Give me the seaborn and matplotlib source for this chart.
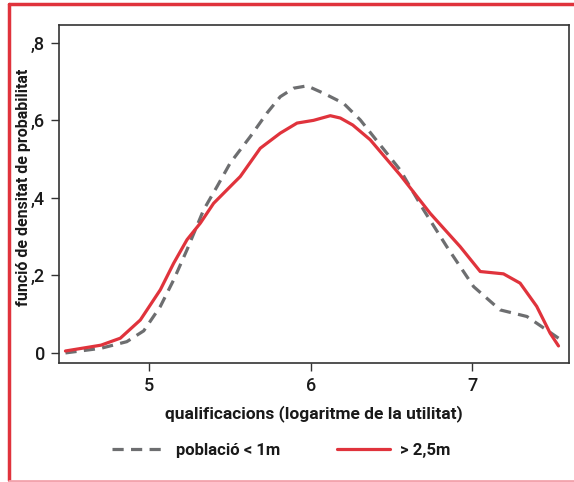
import matplotlib.pyplot as plt
import matplotlib.lines as mlines
import pandas as pd
import seaborn as sns

sns.set_theme(style="ticks")
plt.rcParams['font.family'] = ['Roboto', 'DejaVu Sans']

# values
x_small = [4.48, 4.70, 4.86, 4.965, 5.068, 5.15, 5.233, 5.336, 5.419, 5.501, 5.625, 5.729,
           5.811, 5.894, 5.977, 6.079, 6.203, 6.307, 6.389, 6.554, 6.699, 6.843, 7.009,
           7.173, 7.339, 7.462, 7.535]
y_small = [0.0, 0.012, 0.029, 0.057, 0.120, 0.188, 0.266, 0.369, 0.429, 0.490, 0.558, 0.619,
           0.661, 0.683, 0.689, 0.670, 0.644, 0.601, 0.558, 0.472, 0.369, 0.274, 0.171,
           0.111, 0.094, 0.059, 0.038]

x_big = [4.48, 4.70, 4.82, 4.944, 5.068, 5.15, 5.233, 5.316, 5.398, 5.522, 5.563, 5.687,
         5.811, 5.915, 6.017, 6.121, 6.183, 6.260, 6.368, 6.554, 6.740, 6.926, 7.050,
         7.194, 7.297, 7.400, 7.483, 7.535]
y_big = [0.005, 0.02, 0.038, 0.085, 0.163, 0.231, 0.292, 0.335, 0.386, 0.438, 0.455, 0.528,
         0.567, 0.593, 0.600, 0.612, 0.606, 0.588, 0.550, 0.459, 0.360, 0.274, 0.210,
         0.204, 0.180, 0.120, 0.051, 0.018]

labels = ['població < 1m', '> 2,5m']
colors = ['#6d6e70', '#e0333c']
y_ticks = [0, 0.2, 0.4, 0.6, 0.8]
y_ticklabels = ['0', ',2', ',4', ',6', ',8']
x_ticks = [5, 6, 7]

df = pd.concat([
    pd.DataFrame({'x': x_small, 'y': y_small, 'grup': labels[0]}),
    pd.DataFrame({'x': x_big, 'y': y_big, 'grup': labels[1]}),
])

fig = plt.figure(figsize=(5.74, 4.82), dpi=100)
ax = fig.add_axes([59 / 574, 1 - 363 / 482, 510 / 574, 338 / 482])

sns.lineplot(data=df, x='x', y='y', hue='grup', style='grup', palette=colors,
             dashes={labels[0]: (3.5, 2.3), labels[1]: ''}, linewidth=2.3,
             sort=False, legend=False, ax=ax)

ax.set_xlim(4.44, 7.60)
ax.set_ylim(-0.026, 0.846)
ax.set_xticks(x_ticks)
ax.set_xticklabels([str(t) for t in x_ticks], fontsize=13, fontweight='medium')
ax.set_yticks(y_ticks)
ax.set_yticklabels(y_ticklabels, fontsize=13, fontweight='medium')
ax.tick_params(length=6, width=1, color='#333333', labelcolor='#1a1a1a', pad=4)
for s in ax.spines.values():
    s.set_linewidth(1.2)
    s.set_color('#333333')

ax.set_xlabel('qualificacions (logaritme de la utilitat)', fontsize=12.5, fontweight='bold',
              color='#1a1a1a', labelpad=7)
ax.set_ylabel('funció de densitat de probabilitat', fontsize=11.5, fontweight='bold',
              color='#1a1a1a')
ax.yaxis.set_label_coords(-0.055, 0.52)

# legend laid out as in the original, below the axes
h1 = mlines.Line2D([], [], color=colors[0], lw=2.3, dashes=(3.5, 2.3))
h2 = mlines.Line2D([], [], color=colors[1], lw=2.3)
fig.legend([h1, h2], labels, loc='center', bbox_to_anchor=(0.49, 1 - 450 / 482), ncol=2,
           frameon=False, handlelength=3.2, handletextpad=0.6, columnspacing=3.4,
           prop={'weight': 'bold', 'size': 12}, labelcolor='#1a1a1a')

# red frame of the figure
fig.add_artist(mlines.Line2D([9 / 574, 9 / 574], [0.005, 1 - 4 / 482], color='#e0333c', lw=2.5))
fig.add_artist(mlines.Line2D([9 / 574, 1], [1 - 4 / 482, 1 - 4 / 482], color='#e0333c', lw=2.5))
fig.add_artist(mlines.Line2D([9 / 574, 1], [1 / 482, 1 / 482], color='#f2a3ad', lw=2))

fig.savefig('out.png', dpi=100)
